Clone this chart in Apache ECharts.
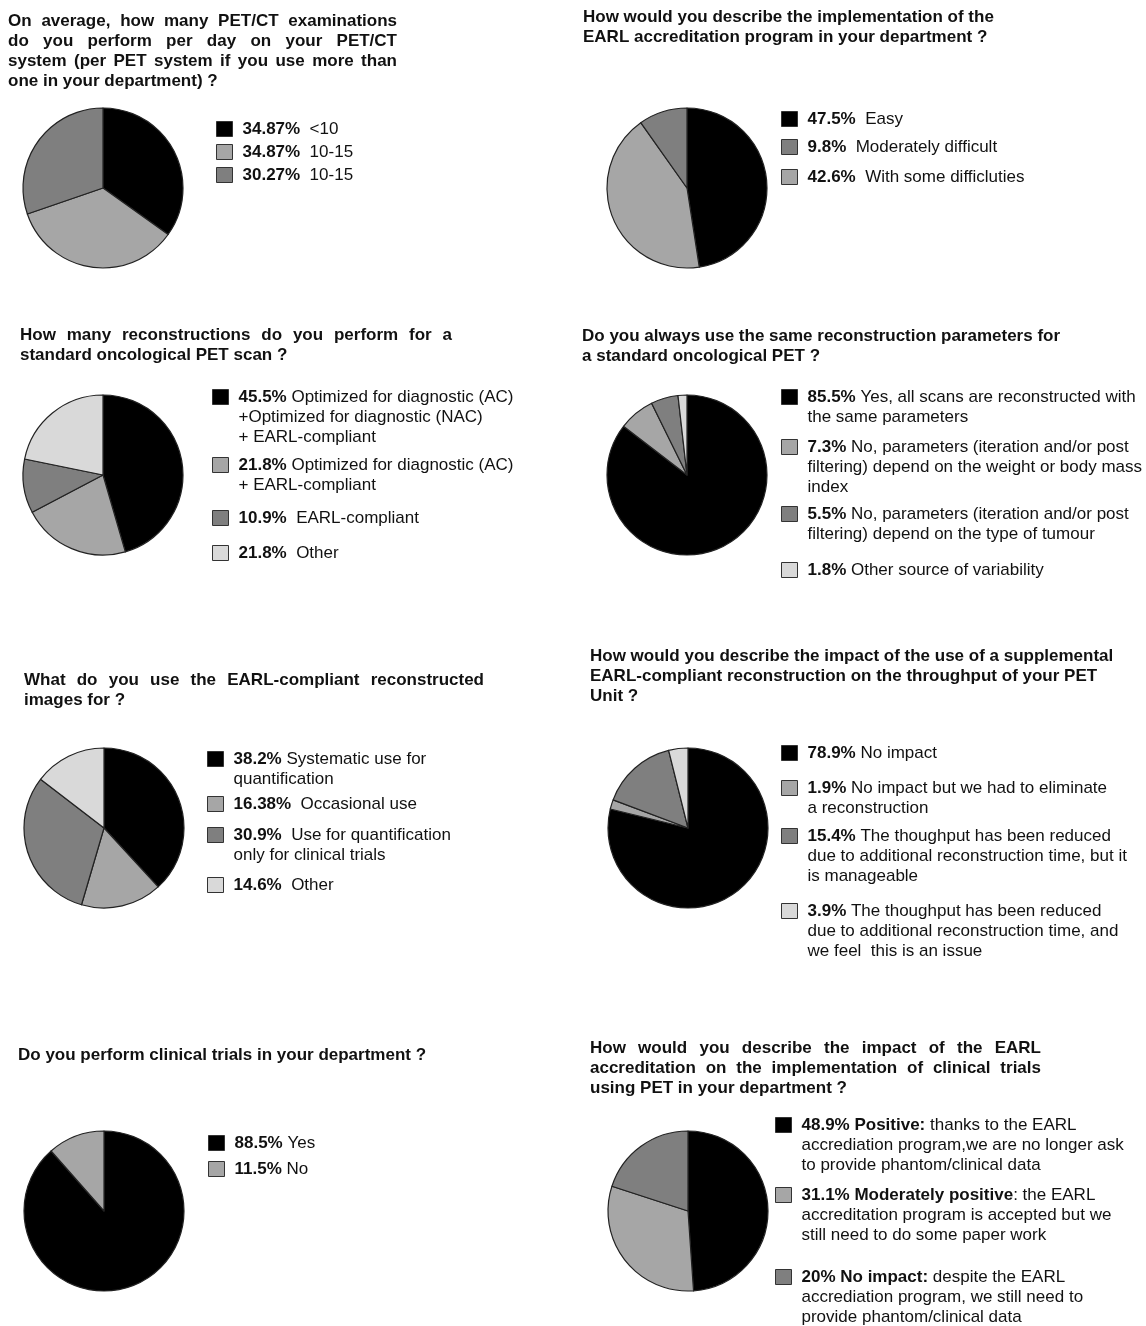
<!DOCTYPE html>
<html><head><meta charset="utf-8">
<script src="https://cdn.jsdelivr.net/npm/echarts@6/dist/echarts.min.js"></script>
<style>html,body{margin:0;padding:0;background:#fff}#c{width:1146px;height:1326px}</style>
</head><body><div id="c"></div>
<script>
// ---------- DATA ----------
const q1Title = 'On average, how many PET/CT examinations\ndo you perform per day on your PET/CT\nsystem (per PET system if you use more than\none in your department) ?';
const q1Labels = ['<10', '10-15', '10-15'];
const q1Values = [34.87, 34.87, 30.27];

const q2Title = 'How would you describe the implementation of the\nEARL accreditation program in your department ?';
const q2Labels = ['Easy', 'With some difficluties', 'Moderately difficult'];
const q2Values = [47.5, 42.6, 9.8];

const q3Title = 'How many reconstructions do you perform for a\nstandard oncological PET scan ?';
const q3Labels = ['Optimized for diagnostic (AC)\n+Optimized for diagnostic (NAC)\n+ EARL-compliant', 'Optimized for diagnostic (AC)\n+ EARL-compliant', 'EARL-compliant', 'Other'];
const q3Values = [45.5, 21.8, 10.9, 21.8];

const q4Title = 'Do you always use the same reconstruction parameters for\na standard oncological PET ?';
const q4Labels = ['Yes, all scans are reconstructed with\nthe same parameters', 'No, parameters (iteration and/or post\nfiltering) depend on the weight or body mass\nindex', 'No, parameters (iteration and/or post\nfiltering) depend on the type of tumour', 'Other source of variability'];
const q4Values = [85.5, 7.3, 5.5, 1.8];

const q5Title = 'What do you use the EARL-compliant reconstructed\nimages for ?';
const q5Labels = ['Systematic use for\nquantification', 'Occasional use', 'Use for quantification\nonly for clinical trials', 'Other'];
const q5Values = [38.2, 16.38, 30.9, 14.6];

const q6Title = 'How would you describe the impact of the use of a supplemental\nEARL-compliant reconstruction on the throughput of your PET\nUnit ?';
const q6Labels = ['No impact', 'No impact but we had to eliminate\na reconstruction', 'The thoughput has been reduced\ndue to additional reconstruction time, but it\nis manageable', 'The thoughput has been reduced\ndue to additional reconstruction time, and\nwe feel  this is an issue'];
const q6Values = [78.9, 1.9, 15.4, 3.9];

const q7Title = 'Do you perform clinical trials in your department ?';
const q7Labels = ['Yes', 'No'];
const q7Values = [88.5, 11.5];

const q8Title = 'How would you describe the impact of the EARL\naccreditation on the implementation of clinical trials\nusing PET in your department ?';
const q8Bold = ['Positive:', 'Moderately positive', 'No impact:'];
const q8Labels = [' thanks to the EARL\naccrediation program,we are no longer ask\nto provide phantom/clinical data', ': the EARL\naccreditation program is accepted but we\nstill need to do some paper work', ' despite the EARL\naccrediation program, we still need to\nprovide phantom/clinical data'];
const q8Values = [48.9, 31.1, 20];

const charts = [
  {title: q1Title, labels: q1Labels, values: q1Values},
  {title: q2Title, labels: q2Labels, values: q2Values},
  {title: q3Title, labels: q3Labels, values: q3Values},
  {title: q4Title, labels: q4Labels, values: q4Values},
  {title: q5Title, labels: q5Labels, values: q5Values},
  {title: q6Title, labels: q6Labels, values: q6Values},
  {title: q7Title, labels: q7Labels, values: q7Values},
  {title: q8Title, labels: q8Labels, values: q8Values, bold: q8Bold}
];

// ---------- LAYOUT / STYLE ----------
const FONT = "'Liberation Sans', Arial, Helvetica, sans-serif";
const LH = 20;
const shade = {k: '#000000', l: '#a6a6a6', m: '#7f7f7f', v: '#d9d9d9'};
// justW: width to which each title line is justified (0 = ragged)
const layout = [
  {tx: 8,   ty: 11,   justW: [389, 389, 389, 0], cx: 103, cy: 188,  lx: 216, ly: [129, 152, 175],      order: [0, 1, 2],    shades: ['k', 'l', 'm'],      gaps: [2, 2, 2]},
  {tx: 583, ty: 7,    justW: [0, 0],           cx: 687, cy: 188,  lx: 781, ly: [119, 147, 177],      order: [0, 2, 1],    shades: ['k', 'l', 'm'],      gaps: [2, 2, 2]},
  {tx: 20,  ty: 325,  justW: [432, 0],         cx: 103, cy: 475,  lx: 212, ly: [397, 465, 518, 553], order: [0, 1, 2, 3], shades: ['k', 'l', 'm', 'v'], gaps: [1, 1, 2, 2]},
  {tx: 582, ty: 326,  justW: [0, 0],           cx: 687, cy: 475,  lx: 781, ly: [397, 447, 514, 570], order: [0, 1, 2, 3], shades: ['k', 'l', 'm', 'v'], gaps: [1, 1, 1, 1]},
  {tx: 24,  ty: 670,  justW: [460, 0],         cx: 104, cy: 828,  lx: 207, ly: [759, 804, 835, 885], order: [0, 1, 2, 3], shades: ['k', 'l', 'm', 'v'], gaps: [1, 2, 2, 2]},
  {tx: 590, ty: 646,  justW: [0, 0, 0],        cx: 688, cy: 828,  lx: 781, ly: [753, 788, 836, 911], order: [0, 1, 2, 3], shades: ['k', 'l', 'm', 'v'], gaps: [1, 1, 1, 1]},
  {tx: 18,  ty: 1045, justW: [0],              cx: 104, cy: 1211, lx: 208, ly: [1143, 1169],         order: [0, 1],       shades: ['k', 'l'],           gaps: [1, 1]},
  {tx: 590, ty: 1038, justW: [451, 451, 0],    cx: 688, cy: 1211, lx: 775, ly: [1125, 1195, 1277],   order: [0, 1, 2],    shades: ['k', 'l', 'm'],      gaps: [1, 1, 1]}
];

// text measurement for justified title lines
const mctx = document.createElement('canvas').getContext('2d');
mctx.font = "bold 17px 'Liberation Sans', Arial, Helvetica, sans-serif";
function justifyTitle(text, widths) {
  const rich = {};
  const out = text.split('\n').map((line, li) => {
    const target = widths[li] || 0;
    const words = line.split(' ');
    if (!target || words.length < 2) return line;
    const wordsW = words.reduce((s, w) => s + mctx.measureText(w).width, 0);
    const gap = Math.max(mctx.measureText(' ').width, (target - wordsW) / (words.length - 1));
    const key = 's' + li;
    rich[key] = {width: gap, fontFamily: FONT, fontSize: 17, fontWeight: 'bold', lineHeight: LH};
    return words.join('{' + key + '| }');
  });
  return {text: out.join('\n'), rich: rich};
}

const titles = [], series = [], legends = [];
const textMap = {};
const boldRich = {fontFamily: FONT, fontSize: 17, fontWeight: 'bold', lineHeight: LH, color: '#111'};

charts.forEach((c, i) => {
  const L = layout[i];
  const jt = justifyTitle(c.title, L.justW);
  titles.push({
    text: jt.text, left: L.tx, top: L.ty, padding: 0,
    textStyle: {fontFamily: FONT, fontSize: 17, fontWeight: 'bold', lineHeight: LH, color: '#111', rich: jt.rich}
  });
  const names = [], lines = [];
  const data = c.values.map((v, k) => {
    const pct = v + '%';
    const boldPart = c.bold ? pct + ' ' + c.bold[k] : pct;
    const rest = c.bold ? c.labels[k] : ' '.repeat(L.gaps[k]) + c.labels[k];
    const name = (boldPart + rest).replace(/\s+/g, ' ').trim();
    textMap[name] = '{b|' + boldPart + '}' + rest;
    names.push(name);
    lines.push(rest.split('\n').length);
    return {name: name, value: v, itemStyle: {color: shade[L.shades[k]]}};
  });
  series.push({
    type: 'pie', center: [L.cx, L.cy], radius: 80, startAngle: 90, clockwise: true,
    silent: true, animation: false,
    label: {show: false}, labelLine: {show: false},
    emphasis: {disabled: true},
    itemStyle: {borderColor: '#222', borderWidth: 1.2},
    data: data
  });
  L.order.forEach((k, j) => {
    const n = lines[k];
    legends.push({
      data: [names[k]], left: L.lx, top: L.ly[j] - (2 * n - 1) * LH / 2,
      orient: 'vertical', padding: 0, itemGap: 0,
      itemWidth: 16, itemHeight: 15, icon: 'rect', selectedMode: false,
      itemStyle: {borderColor: '#333', borderWidth: 1},
      formatter: nm => textMap[nm],
      textStyle: {
        fontFamily: FONT, fontSize: 17, lineHeight: LH, color: '#111',
        padding: [(n - 1) * LH, 0, 0, 5],
        rich: {b: boldRich}
      }
    });
  });
});

const chart = echarts.init(document.getElementById('c'), null, {renderer: 'canvas'});
chart.setOption({
  animation: false,
  backgroundColor: '#ffffff',
  title: titles,
  legend: legends,
  series: series
});
</script>
</body></html>
